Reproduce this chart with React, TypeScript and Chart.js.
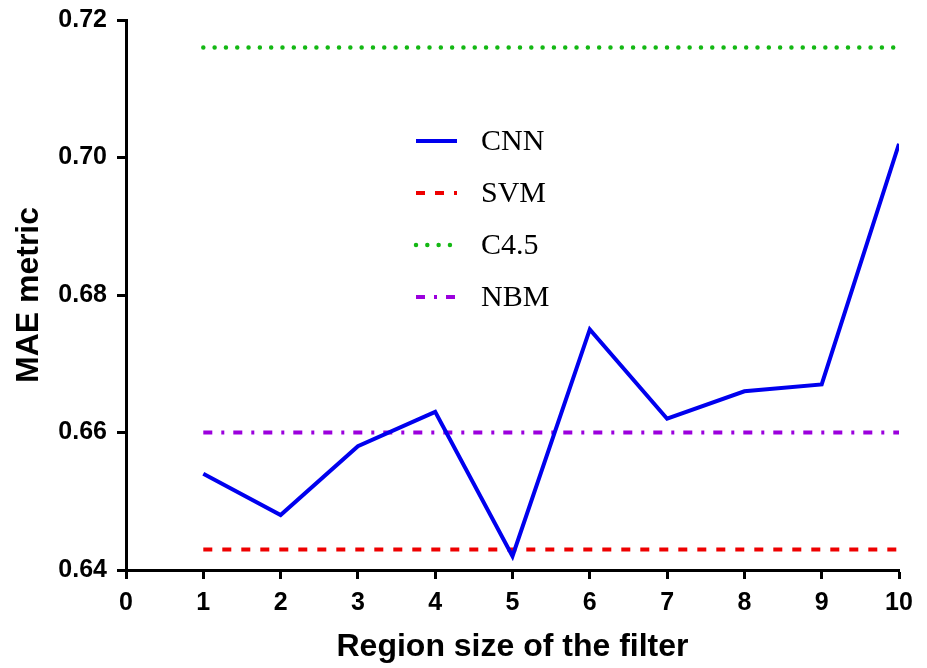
import React, { useEffect, useRef } from "react";
import { Chart, registerables } from "chart.js";

Chart.register(...registerables);

// ---- data ----
const regionSizes = [1, 2, 3, 4, 5, 6, 7, 8, 9, 10];
const cnnMAE = [0.654, 0.648, 0.658, 0.663, 0.642, 0.675, 0.662, 0.666, 0.667, 0.702];
const svmMAE = [0.643, 0.643, 0.643, 0.643, 0.643, 0.643, 0.643, 0.643, 0.643, 0.643];
const c45MAE = [0.716, 0.716, 0.716, 0.716, 0.716, 0.716, 0.716, 0.716, 0.716, 0.716];
const nbmMAE = [0.66, 0.66, 0.66, 0.66, 0.66, 0.66, 0.66, 0.66, 0.66, 0.66];
const seriesLabels = ["CNN", "SVM", "C4.5", "NBM"];
const yMin = 0.64;
const yMax = 0.72;
const yStep = 0.02;
const xMin = 0;
const xMax = 10;
const xTitle = "Region size of the filter";
const yTitle = "MAE metric";

const SANS = '"Liberation Sans", Arial, Helvetica, sans-serif';
const SERIF = '"Liberation Serif", "Times New Roman", serif';

const toPoints = (vals: number[]) => regionSizes.map((x, i) => ({ x, y: vals[i] }));

const insideLegend = {
  id: "insideLegend",
  afterDraw(chart: any) {
    const ctx = chart.ctx as CanvasRenderingContext2D;
    const lineX0 = 416;
    const lineX1 = 457;
    const textX = 481;
    const rowY0 = 141;
    const rowStep = 52;
    chart.data.datasets.forEach((ds: any, i: number) => {
      const y = rowY0 + i * rowStep;
      ctx.save();
      ctx.strokeStyle = ds.borderColor;
      ctx.lineWidth = ds.borderWidth;
      ctx.lineCap = ds.borderCapStyle || "butt";
      ctx.setLineDash(ds.borderDash || []);
      ctx.beginPath();
      ctx.moveTo(lineX0, y);
      ctx.lineTo(lineX1, y);
      ctx.stroke();
      ctx.setLineDash([]);
      ctx.fillStyle = "#000";
      ctx.font = `30px ${SERIF}`;
      ctx.textAlign = "left";
      ctx.textBaseline = "middle";
      ctx.fillText(ds.label, textX, y + 1);
      ctx.restore();
    });
  },
};

export default function App() {
  const canvasRef = useRef<HTMLCanvasElement | null>(null);

  useEffect(() => {
    if (!canvasRef.current) return;
    const chart = new Chart(canvasRef.current, {
      type: "line",
      data: {
        datasets: [
          {
            label: seriesLabels[0],
            data: toPoints(cnnMAE),
            borderColor: "#0000ee",
            borderWidth: 4,
            pointRadius: 0,
            tension: 0,
            borderJoinStyle: "miter",
          },
          {
            label: seriesLabels[1],
            data: toPoints(svmMAE),
            borderColor: "#ee0000",
            borderWidth: 4,
            borderDash: [9, 10],
            pointRadius: 0,
          },
          {
            label: seriesLabels[2],
            data: toPoints(c45MAE),
            borderColor: "#14b814",
            borderWidth: 4.5,
            borderDash: [0.01, 11.3],
            borderCapStyle: "round",
            pointRadius: 0,
          },
          {
            label: seriesLabels[3],
            data: toPoints(nbmMAE),
            borderColor: "#9b00dd",
            borderWidth: 4,
            borderDash: [9, 9, 3, 9],
            pointRadius: 0,
          },
        ] as any,
      },
      options: {
        animation: false,
        responsive: false,
        layout: { padding: { top: 20, right: 28, left: 0, bottom: 0 } },
        plugins: {
          legend: { display: false },
          tooltip: { enabled: false },
        },
        elements: { line: { fill: false } },
        scales: {
          x: {
            type: "linear",
            min: xMin,
            max: xMax,
            afterFit: (s: any) => {
              s.height = 98;
              s.paddingLeft = 0;
              s.paddingRight = 0;
            },
            ticks: {
              stepSize: 1,
              color: "#000",
              font: { family: SANS, size: 25, weight: "bold" },
              padding: 9,
              maxRotation: 0,
            },
            grid: {
              display: true,
              drawOnChartArea: false,
              drawTicks: true,
              tickLength: 9,
              tickWidth: 3,
              tickColor: "#000",
            },
            border: { display: true, color: "#000", width: 3 },
            title: {
              display: true,
              text: xTitle,
              color: "#000",
              font: { family: SANS, size: 32, weight: "bold" },
              padding: { top: 6, bottom: 2 },
            },
          },
          y: {
            type: "linear",
            min: yMin,
            max: yMax,
            afterFit: (s: any) => {
              s.width = 126;
              s.paddingTop = 0;
              s.paddingBottom = 0;
            },
            ticks: {
              stepSize: yStep,
              color: "#000",
              font: { family: SANS, size: 25, weight: "bold" },
              padding: 10,
              callback: (v: any) => Number(v).toFixed(2),
            },
            grid: {
              display: true,
              drawOnChartArea: false,
              drawTicks: true,
              tickLength: 9,
              tickWidth: 3,
              tickColor: "#000",
            },
            border: { display: true, color: "#000", width: 3 },
            title: {
              display: true,
              text: yTitle,
              color: "#000",
              font: { family: SANS, size: 32, weight: "bold" },
              padding: { top: 10, bottom: 0 },
            },
          },
        },
      },
      plugins: [insideLegend],
    });
    return () => chart.destroy();
  }, []);

  return (
    <div style={{ position: "fixed", left: 0, top: 0, width: 927, height: 668, background: "#fff" }}>
      <canvas ref={canvasRef} width={927} height={668} />
    </div>
  );
}
